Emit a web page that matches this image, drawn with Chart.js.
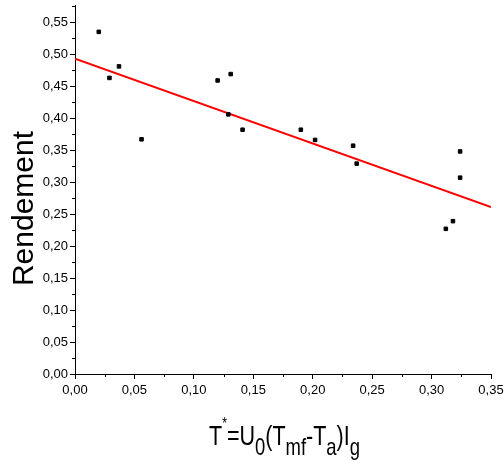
<!DOCTYPE html>
<html>
<head>
<meta charset="utf-8">
<script src="https://cdn.jsdelivr.net/npm/chart.js@4"></script>
<style>
  html, body { margin: 0; padding: 0; background: #fff; }
  #wrap { width: 504px; height: 461px; }
</style>
</head>
<body>
<div id="wrap"><canvas id="myChart" width="504" height="461"></canvas></div>
<script>
// measured points (T*, rendement)
const pointX = [0.020, 0.029, 0.037, 0.056, 0.120, 0.129, 0.131, 0.141, 0.190, 0.202, 0.234, 0.237, 0.312, 0.318, 0.324, 0.324];
const pointY = [0.535, 0.463, 0.481, 0.367, 0.459, 0.406, 0.469, 0.382, 0.382, 0.366, 0.357, 0.329, 0.227, 0.239, 0.348, 0.307];

// linear fit, end points
const fitX = [0, 0.35];
const fitY = [0.493, 0.261];

const xMin = 0, xMax = 0.35, xStep = 0.05;
const yMin = 0, yMax = 0.577, yStep = 0.05;

const yTitle = "Rendement";
// x title pieces: text, size, baseline shift
const xTitleParts = [
  ["T", 28, 0], ["*", 16, -16], ["=", 28, 0], ["U", 28, 0], ["0", 24, 10],
  ["(", 28, 0], ["T", 28, 0], ["mf", 24, 10], ["-", 28, 0], ["T", 28, 0],
  ["a", 24, 10], [")", 28, 0], ["I", 28, 0], ["g", 24, 10],
];

const fontFamily = "'Liberation Sans', Arial, sans-serif";
const fmt = (v) => v.toFixed(2).replace(".", ",");

const scatterData = pointX.map((x, i) => ({ x: x, y: pointY[i] }));
const fitData = fitX.map((x, i) => ({ x: x, y: fitY[i] }));

// minor ticks + axis titles
const extrasPlugin = {
  id: "extras",
  afterDraw(chart) {
    const { ctx, chartArea } = chart;
    const xs = chart.scales.x;
    const ys = chart.scales.y;

    ctx.save();
    ctx.strokeStyle = "#000";
    ctx.lineWidth = 1;
    ctx.beginPath();
    for (let v = xMin + xStep / 2; v < xMax; v += xStep) {
      const px = Math.round(xs.getPixelForValue(v)) + 0.5;
      ctx.moveTo(px, chartArea.bottom);
      ctx.lineTo(px, chartArea.bottom + 3);
    }
    for (let v = yMin + yStep / 2; v < yMax; v += yStep) {
      const py = Math.round(ys.getPixelForValue(v)) + 0.5;
      ctx.moveTo(chartArea.left - 3, py);
      ctx.lineTo(chartArea.left, py);
    }
    ctx.stroke();

    // y title
    ctx.fillStyle = "#000";
    ctx.font = "30px " + fontFamily;
    ctx.textAlign = "center";
    ctx.textBaseline = "alphabetic";
    ctx.save();
    ctx.translate(33, (chartArea.top + chartArea.bottom) / 2 + 19);
    ctx.rotate(-Math.PI / 2);
    ctx.fillText(yTitle, 0, 0);
    ctx.restore();

    // x title, squeezed like the original
    ctx.textAlign = "left";
    let total = 0;
    xTitleParts.forEach(([t, s]) => {
      ctx.font = s + "px " + fontFamily;
      total += ctx.measureText(t).width;
    });
    const targetWidth = 151;
    const sx = targetWidth / total;
    const startX = (chartArea.left + chartArea.right) / 2 + 1.5 - targetWidth / 2;
    const baseY = chartArea.bottom + 71;
    ctx.save();
    ctx.translate(startX, baseY);
    ctx.scale(sx, 1);
    let cx = 0;
    xTitleParts.forEach(([t, s, dy]) => {
      ctx.font = s + "px " + fontFamily;
      ctx.fillText(t, cx, dy);
      cx += ctx.measureText(t).width;
    });
    ctx.restore();
    ctx.restore();
  },
};

new Chart(document.getElementById("myChart"), {
  type: "scatter",
  data: {
    datasets: [
      {
        type: "scatter",
        data: scatterData,
        pointStyle: "rect",
        pointRadius: 2.5,
        backgroundColor: "#000",
        borderColor: "#000",
        borderWidth: 1,
      },
      {
        type: "line",
        data: fitData,
        borderColor: "#ff0000",
        borderWidth: 2,
        pointRadius: 0,
        fill: false,
      },
    ],
  },
  options: {
    responsive: false,
    animation: false,
    layout: { padding: { left: 0, right: 13, top: 5, bottom: 0 } },
    plugins: { legend: { display: false }, tooltip: { enabled: false } },
    scales: {
      x: {
        type: "linear",
        min: xMin,
        max: xMax,
        afterFit(scale) {
          scale.height = 87;
          scale.paddingLeft = 0;
          scale.paddingRight = 0;
        },
        grid: { drawOnChartArea: false, tickLength: 5, color: "#000" },
        border: { color: "#000", width: 1 },
        ticks: {
          stepSize: xStep,
          padding: 4,
          maxRotation: 0,
          color: "#000",
          font: { family: fontFamily, size: 13 },
          callback: (v) => fmt(v),
        },
      },
      y: {
        type: "linear",
        min: yMin,
        max: yMax,
        afterFit(scale) {
          scale.width = 75;
          scale.paddingTop = 0;
          scale.paddingBottom = 0;
        },
        grid: { drawOnChartArea: false, tickLength: 5, color: "#000" },
        border: { color: "#000", width: 1 },
        ticks: {
          stepSize: yStep,
          includeBounds: false,
          padding: 2,
          color: "#000",
          font: { family: fontFamily, size: 13 },
          callback: (v) => fmt(v),
        },
      },
    },
  },
  plugins: [extrasPlugin],
});
</script>
</body>
</html>
